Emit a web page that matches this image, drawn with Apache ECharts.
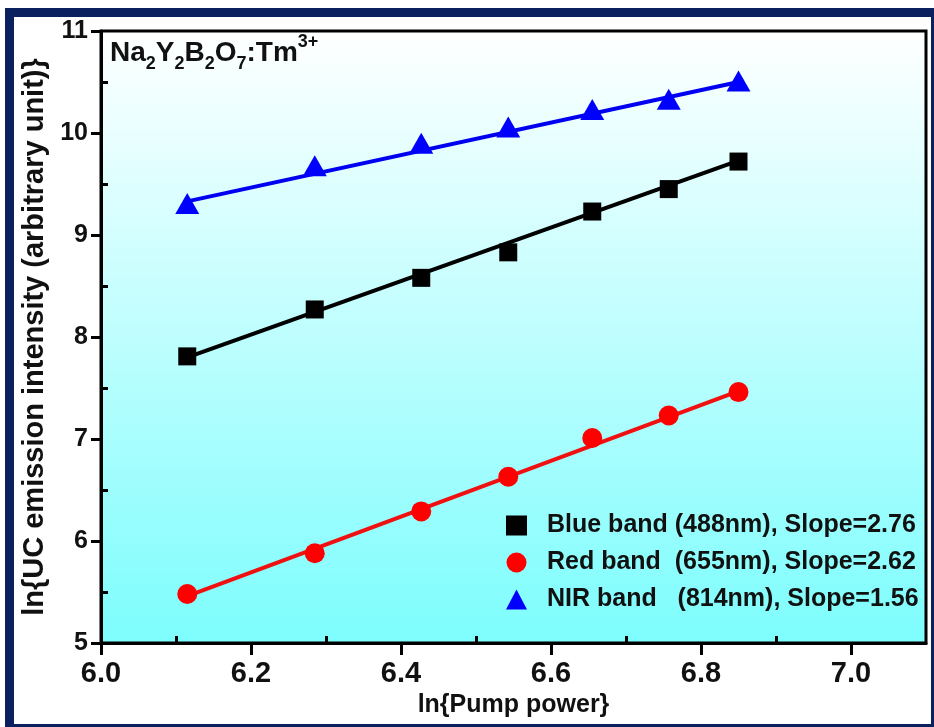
<!DOCTYPE html>
<html>
<head>
<meta charset="utf-8">
<script src="https://cdn.jsdelivr.net/npm/echarts@6/dist/echarts.min.js"></script>
<style>
  html, body { margin: 0; padding: 0; background: #fff; }
  #chart { width: 934px; height: 727px; }
</style>
</head>
<body>
<div id="chart"></div>
<script>
// ln(pump power) of each measurement
const lnPower = [6.115, 6.285, 6.427, 6.543, 6.655, 6.757, 6.850]
const blueBand = [7.81, 8.27, 8.58, 8.83, 9.23, 9.45, 9.72]
const redBand = [5.48, 5.88, 6.29, 6.63, 7.01, 7.23, 7.46]
const nirBand = [9.31, 9.68, 9.90, 10.06, 10.23, 10.33, 10.51]
// linear fits, value at first and last pump power
const fitX = [6.115, 6.850]
const blueFit = [7.80, 9.73]
const redFit = [5.46, 7.47]
const nirFit = [9.33, 10.50]
// tick labels
const xTicks = [6.0, 6.2, 6.4, 6.6, 6.8, 7.0]
const xMinor = [6.1, 6.3, 6.5, 6.7, 6.9]
const yTicks = [5, 6, 7, 8, 9, 10, 11]
const yMinor = [5.5, 6.5, 7.5, 8.5, 9.5, 10.5]
const names = [
  'Blue band (488nm), Slope=2.76',
  'Red band  (655nm), Slope=2.62',
  'NIR band   (814nm), Slope=1.56'
]

const font = "'Liberation Sans', Arial, sans-serif"
const navy = '#0b215f'

const pairs = (xs, ys) => xs.map((x, i) => [x, ys[i]])

const chart = echarts.init(document.getElementById('chart'))

const axisLine = { show: true, lineStyle: { color: '#000', width: 3 } }

const option = {
  animation: false,
  backgroundColor: '#fff',
  title: {
    text: '{m|Na}{s|2}{m|Y}{s|2}{m|B}{s|2}{m|O}{s|7}{m|:Tm}{p|3+}',
    left: 110,
    top: 33,
    padding: 0,
    textStyle: {
      rich: {
        m: { fontFamily: font, fontWeight: 'bold', fontSize: 28, color: '#111', lineHeight: 40, verticalAlign: 'middle' },
        s: { fontFamily: font, fontWeight: 'bold', fontSize: 18, color: '#111', lineHeight: 18, verticalAlign: 'bottom' },
        p: { fontFamily: font, fontWeight: 'bold', fontSize: 18, color: '#111', lineHeight: 16, verticalAlign: 'top' }
      }
    }
  },
  graphic: [
    { type: 'rect', shape: { x: 5, y: 8, width: 929, height: 9 }, style: { fill: navy }, z: 100 },
    { type: 'rect', shape: { x: 5, y: 8, width: 9, height: 719 }, style: { fill: navy }, z: 100 },
    { type: 'rect', shape: { x: 931, y: 8, width: 3, height: 719 }, style: { fill: navy }, z: 100 },
    { type: 'rect', shape: { x: 5, y: 724, width: 929, height: 3 }, style: { fill: navy }, z: 100 }
  ],
  legend: {
    orient: 'vertical',
    left: 501,
    top: 508,
    itemWidth: 21,
    itemHeight: 20,
    itemGap: 12,
    textStyle: {
      fontFamily: font,
      fontWeight: 'bold',
      fontSize: 25,
      color: '#111',
      padding: [0, 0, 0, 15]
    },
    data: names
  },
  grid: {
    left: 101,
    top: 31,
    width: 825,
    height: 612,
    show: true,
    borderColor: '#000',
    borderWidth: 3,
    backgroundColor: new echarts.graphic.LinearGradient(0, 0, 0, 1, [
      { offset: 0, color: '#ffffff' },
      { offset: 1, color: '#7dfdfd' }
    ])
  },
  xAxis: [
    {
      type: 'value',
      min: 6.0,
      max: 7.1,
      position: 'bottom',
      axisLine: axisLine,
      axisTick: { show: true, length: 12, customValues: xTicks, lineStyle: { color: '#000', width: 3 } },
      axisLabel: {
        customValues: xTicks,
        formatter: v => v.toFixed(1),
        fontFamily: font,
        fontWeight: 'bold',
        fontSize: 29,
        color: '#111',
        margin: 16
      },
      splitLine: { show: false },
      name: 'ln{Pump power}',
      nameLocation: 'middle',
      nameGap: 48,
      nameTextStyle: { fontFamily: font, fontWeight: 'bold', fontSize: 25, color: '#111' }
    },
    {
      type: 'value',
      min: 6.0,
      max: 7.1,
      position: 'bottom',
      axisLine: { show: false },
      axisTick: { show: true, inside: true, length: 7, customValues: xMinor, lineStyle: { color: '#000', width: 3 } },
      axisLabel: { show: false },
      splitLine: { show: false }
    }
  ],
  yAxis: [
    {
      type: 'value',
      min: 5,
      max: 11,
      position: 'left',
      axisLine: axisLine,
      axisTick: { show: true, length: 10, customValues: yTicks, lineStyle: { color: '#000', width: 3 } },
      axisLabel: {
        customValues: yTicks,
        fontFamily: font,
        fontWeight: 'bold',
        fontSize: 25,
        color: '#111',
        margin: 13
      },
      splitLine: { show: false },
      name: 'ln{UC emission intensity (arbitrary unit)}',
      nameLocation: 'middle',
      nameGap: 51,
      nameTextStyle: { fontFamily: font, fontWeight: 'bold', fontSize: 29, color: '#111' }
    },
    {
      type: 'value',
      min: 5,
      max: 11,
      position: 'left',
      axisLine: { show: false },
      axisTick: { show: true, inside: true, length: 7, customValues: yMinor, lineStyle: { color: '#000', width: 3 } },
      axisLabel: { show: false },
      splitLine: { show: false }
    }
  ],
  series: [
    {
      type: 'line', data: pairs(fitX, blueFit), symbol: 'none', z: 2,
      lineStyle: { color: '#000', width: 4 }, silent: true
    },
    {
      type: 'line', data: pairs(fitX, redFit), symbol: 'none', z: 2,
      lineStyle: { color: '#f01010', width: 4 }, silent: true
    },
    {
      type: 'line', data: pairs(fitX, nirFit), symbol: 'none', z: 2,
      lineStyle: { color: '#0000f0', width: 4 }, silent: true
    },
    {
      name: names[0], type: 'scatter', data: pairs(lnPower, blueBand), z: 3,
      symbol: 'rect', symbolSize: 18, itemStyle: { color: '#000', opacity: 1 }
    },
    {
      name: names[1], type: 'scatter', data: pairs(lnPower, redBand), z: 3,
      symbol: 'circle', symbolSize: 20, itemStyle: { color: '#ff0000', opacity: 1 }
    },
    {
      name: names[2], type: 'scatter', data: pairs(lnPower, nirBand), z: 3,
      symbol: 'triangle', symbolSize: [24, 21], itemStyle: { color: '#0000ff', opacity: 1 }
    }
  ]
}

chart.setOption(option)
</script>
</body>
</html>
